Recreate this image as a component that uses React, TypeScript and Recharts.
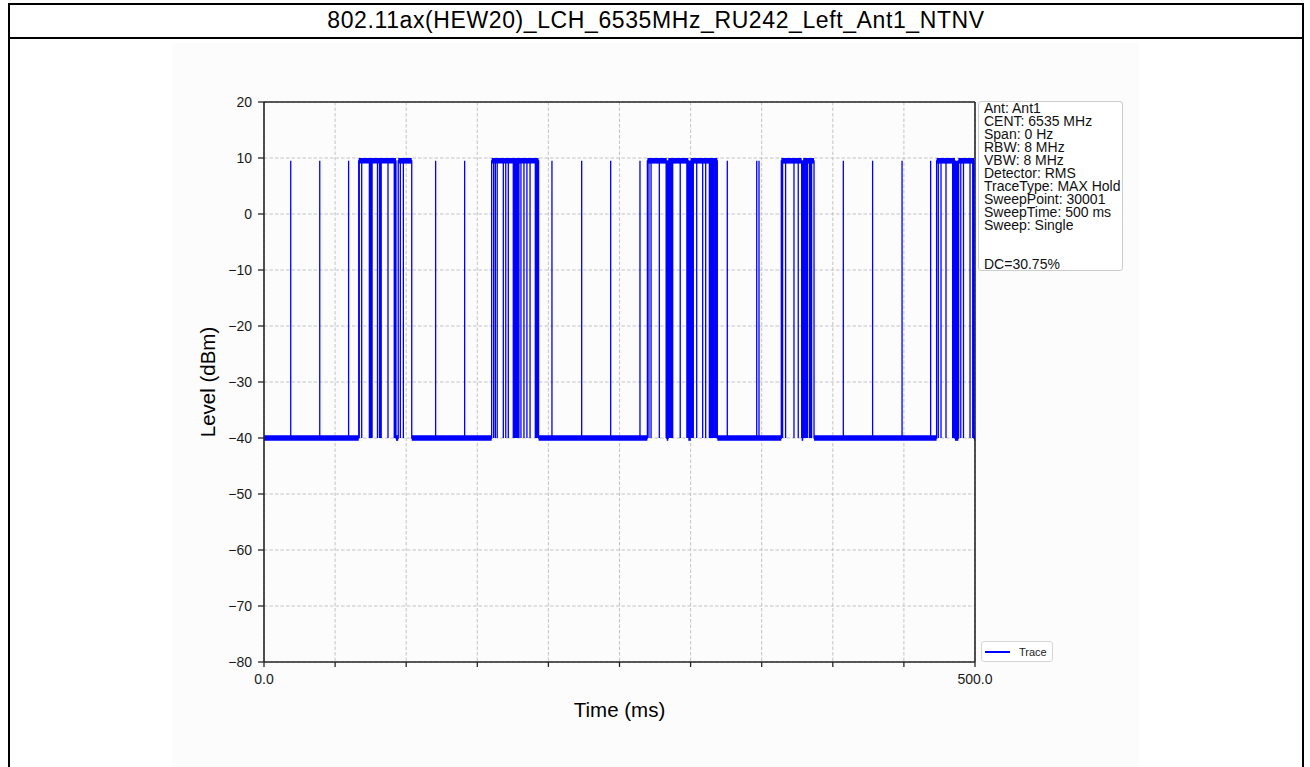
import React from 'react';
import {
  ComposedChart,
  Line,
  XAxis,
  YAxis,
  CartesianGrid,
  ReferenceArea,
  ReferenceLine,
  Label,
} from 'recharts';

// ---------------- data ----------------
const TITLE = '802.11ax(HEW20)_LCH_6535MHz_RU242_Left_Ant1_NTNV';

const yTicks = [20, 10, 0, -10, -20, -30, -40, -50, -60, -70, -80];
const xTicks = [0, 50, 100, 150, 200, 250, 300, 350, 400, 450, 500];
const xTickLabels = ['0.0', '', '', '', '', '', '', '', '', '', '500.0'];

// trace levels in dBm: [noise floor, burst level]
const traceLevels = [-40, 9.5];
// visual envelope (jitter) of the floor and burst levels, dBm
const floorBand = [-40.5, -39.5];
const burstBand = [9.0, 10.0];

// time windows (ms) where the trace sits at burst level
const highSegments: [number, number][] = [
  [66.6, 92.8],
  [94.4, 103.9],
  [160.1, 193.1],
  [269.6, 283.2],
  [284.3, 298.4],
  [300.1, 318.8],
  [363.8, 378.1],
  [379.2, 386.8],
  [473.0, 485.9],
  [488.3, 499.3],
];

// single short drops to the floor inside bursts (ms)
const burstDips = [
  67.0, 68.7, 79.8, 87.2, 95.9, 98.0,
  161.5, 162.7, 164.0, 168.3, 170.0, 171.8, 180.7, 182.8, 184.9, 187.1,
  270.7, 272.2, 278.0, 292.7, 304.3, 308.5, 310.6,
  364.7, 366.8, 372.7, 375.7,
  474.2, 476.1, 479.6, 490.0, 491.9, 496.5,
];

// dense clusters of drops inside bursts (ms)
const denseDips: [number, number][] = [
  [74.1, 76.0],
  [81.2, 82.4],
  [91.6, 92.3],
  [175.3, 177.3],
  [177.9, 179.3],
  [190.8, 192.8],
  [282.8, 287.4],
  [297.4, 299.2],
  [300.3, 301.9],
  [313.2, 316.0],
  [316.6, 318.4],
  [378.3, 380.0],
  [380.6, 382.1],
  [383.5, 385.1],
  [484.3, 488.5],
  [498.4, 499.1],
];

// single short bursts rising out of the noise floor (ms)
const noiseSpikes = [
  18.8, 39.2, 59.5, 120.7, 141.1, 202.5, 223.4, 243.8, 264.4,
  325.8, 346.5, 348.1, 407.4, 428.0, 448.7, 468.8,
];

const infoLines = [
  'Ant: Ant1',
  'CENT: 6535 MHz',
  'Span: 0 Hz',
  'RBW: 8 MHz',
  'VBW: 8 MHz',
  'Detector: RMS',
  'TraceType: MAX Hold',
  'SweepPoint: 30001',
  'SweepTime: 500 ms',
  'Sweep: Single',
  '',
  '',
  'DC=30.75%',
];

const seriesName = 'Trace';
const timeSpan = [0, 500];

// ---------------- derived tables ----------------
type Pt = { t: number; v: number };

function buildTrace(): Pt[] {
  const [LOW, HIGH] = traceLevels;
  const groups: { t: number; o: number; pts: number[] }[] = [];
  groups.push({ t: timeSpan[0], o: 0, pts: [LOW] });
  highSegments.forEach(([s, e]) => {
    groups.push({ t: s, o: 0, pts: [LOW, HIGH] });
    groups.push({ t: e, o: 2, pts: [HIGH, LOW] });
  });
  burstDips.forEach((d) => groups.push({ t: d, o: 1, pts: [HIGH, LOW, HIGH] }));
  denseDips.forEach(([s, e]) => {
    groups.push({ t: s, o: 1, pts: [HIGH, LOW, HIGH] });
    groups.push({ t: e, o: 1, pts: [HIGH, LOW, HIGH] });
  });
  noiseSpikes.forEach((p) => groups.push({ t: p, o: 1, pts: [LOW, HIGH, LOW] }));
  groups.push({ t: timeSpan[1], o: 3, pts: [LOW] });
  groups.sort((a, b) => a.t - b.t || a.o - b.o);
  const out: Pt[] = [];
  groups.forEach((g) => g.pts.forEach((v) => out.push({ t: g.t, v })));
  return out;
}

function floorSegments(): [number, number][] {
  const res: [number, number][] = [];
  let prev = timeSpan[0];
  highSegments.forEach(([s, e]) => {
    if (s > prev) res.push([prev, s]);
    prev = e;
  });
  if (prev < timeSpan[1]) res.push([prev, timeSpan[1]]);
  return res;
}

const fmtY = (v: number) => (v < 0 ? '\u2212' + Math.abs(v) : String(v));
const fmtX = (v: number) => {
  const i = xTicks.indexOf(v);
  return i >= 0 ? xTickLabels[i] : '';
};

const FONT = '"Liberation Sans", Arial, Helvetica, sans-serif';
const BLUE = '#0000ff';
const AXIS = '#262626';

export default function App() {
  const trace = buildTrace();
  const lows = floorSegments();
  const [LOW, HIGH] = traceLevels;

  return (
    <div
      style={{
        position: 'absolute',
        left: 0,
        top: 0,
        width: 1310,
        height: 767,
        overflow: 'hidden',
        background: '#ffffff',
        fontFamily: FONT,
      }}
    >
      {/* figure background */}
      <div style={{ position: 'absolute', left: 172, top: 43, width: 967, height: 724, background: '#fcfcfc' }} />
      {/* outer frame */}
      <div
        style={{
          position: 'absolute',
          left: 7.5,
          top: 3.2,
          width: 1292.8,
          height: 800,
          border: '2px solid #000',
        }}
      />
      <div style={{ position: 'absolute', left: 7.5, top: 37.2, width: 1296.8, height: 1.9, background: '#000' }} />
      <div
        style={{
          position: 'absolute',
          left: 8,
          top: 6,
          width: 1296,
          height: 28,
          lineHeight: '28px',
          textAlign: 'center',
          fontSize: 23,
          letterSpacing: 0.6,
          color: '#000',
          whiteSpace: 'nowrap',
        }}
      >
        {TITLE}
      </div>

      <div style={{ position: 'absolute', left: 0, top: 0 }}>
        <ComposedChart
          width={1310}
          height={767}
          data={trace}
          margin={{ top: 102, right: 335, bottom: 75, left: 204 }}
        >
          <CartesianGrid stroke="#bdbdbd" strokeDasharray="3.5 2" strokeWidth={0.9} />
          <XAxis
            dataKey="t"
            type="number"
            domain={timeSpan}
            ticks={xTicks}
            tickFormatter={fmtX}
            interval={0}
            height={30}
            tickSize={5}
            tickMargin={7}
            axisLine={{ stroke: AXIS, strokeWidth: 1.6 }}
            tickLine={{ stroke: AXIS, strokeWidth: 1.3 }}
            tick={{ fill: '#1a1a1a', fontSize: 14, fontFamily: FONT }}
            allowDataOverflow
          >
            <Label
              value="Time (ms)"
              position="bottom"
              offset={10}
              style={{ fill: '#000', fontSize: 20.5, fontFamily: FONT }}
            />
          </XAxis>
          <YAxis
            dataKey="v"
            type="number"
            domain={[-80, 20]}
            ticks={yTicks}
            tickFormatter={fmtY}
            interval={0}
            width={60}
            tickSize={6}
            tickMargin={6}
            axisLine={{ stroke: AXIS, strokeWidth: 1.6 }}
            tickLine={{ stroke: AXIS, strokeWidth: 1.3 }}
            tick={{ fill: '#1a1a1a', fontSize: 14, fontFamily: FONT }}
            allowDataOverflow
          >
            <Label
              value="Level (dBm)"
              angle={-90}
              position="insideLeft"
              offset={4}
              style={{ fill: '#000', fontSize: 20.5, fontFamily: FONT, textAnchor: 'middle' }}
            />
          </YAxis>

          {lows.map(([s, e], i) => (
            <ReferenceArea
              key={'lo' + i}
              x1={s}
              x2={e}
              y1={floorBand[0]}
              y2={floorBand[1]}
              fill={BLUE}
              fillOpacity={1}
              stroke="none"
              ifOverflow="visible"
            />
          ))}
          {highSegments.map(([s, e], i) => (
            <ReferenceArea
              key={'hi' + i}
              x1={s}
              x2={e}
              y1={burstBand[0]}
              y2={burstBand[1]}
              fill={BLUE}
              fillOpacity={1}
              stroke="none"
              ifOverflow="visible"
            />
          ))}
          {denseDips.map(([s, e], i) => (
            <ReferenceArea
              key={'dd' + i}
              x1={s}
              x2={e}
              y1={LOW}
              y2={HIGH}
              fill={BLUE}
              fillOpacity={1}
              stroke="none"
              ifOverflow="visible"
            />
          ))}

          <ReferenceLine y={20} stroke={AXIS} strokeWidth={1.6} ifOverflow="visible" />
          <ReferenceLine x={500} stroke={AXIS} strokeWidth={1.6} ifOverflow="visible" />

          <Line
            name={seriesName}
            dataKey="v"
            type="linear"
            stroke={BLUE}
            strokeWidth={1.3}
            dot={false}
            activeDot={false}
            isAnimationActive={false}
          />
        </ComposedChart>
      </div>

      {/* info box */}
      <div
        style={{
          position: 'absolute',
          left: 978,
          top: 101,
          width: 145,
          height: 170,
          border: '1px solid #cccccc',
          borderRadius: 3,
          background: '#ffffff',
          fontSize: 14,
          lineHeight: '13px',
          color: '#111',
          paddingLeft: 5,
          boxSizing: 'border-box',
          whiteSpace: 'pre',
        }}
      >
        {infoLines.join('\n')}
      </div>

      {/* legend */}
      <div
        style={{
          position: 'absolute',
          left: 981,
          top: 641,
          width: 72,
          height: 21,
          border: '1px solid #d6d6d6',
          borderRadius: 3,
          background: '#ffffff',
          boxSizing: 'border-box',
        }}
      >
        <div style={{ position: 'absolute', left: 3, top: 9, width: 25, height: 1.5, background: BLUE }} />
        <div
          style={{
            position: 'absolute',
            left: 37,
            top: 2,
            fontSize: 11,
            lineHeight: '16px',
            color: '#222',
          }}
        >
          {seriesName}
        </div>
      </div>
    </div>
  );
}
